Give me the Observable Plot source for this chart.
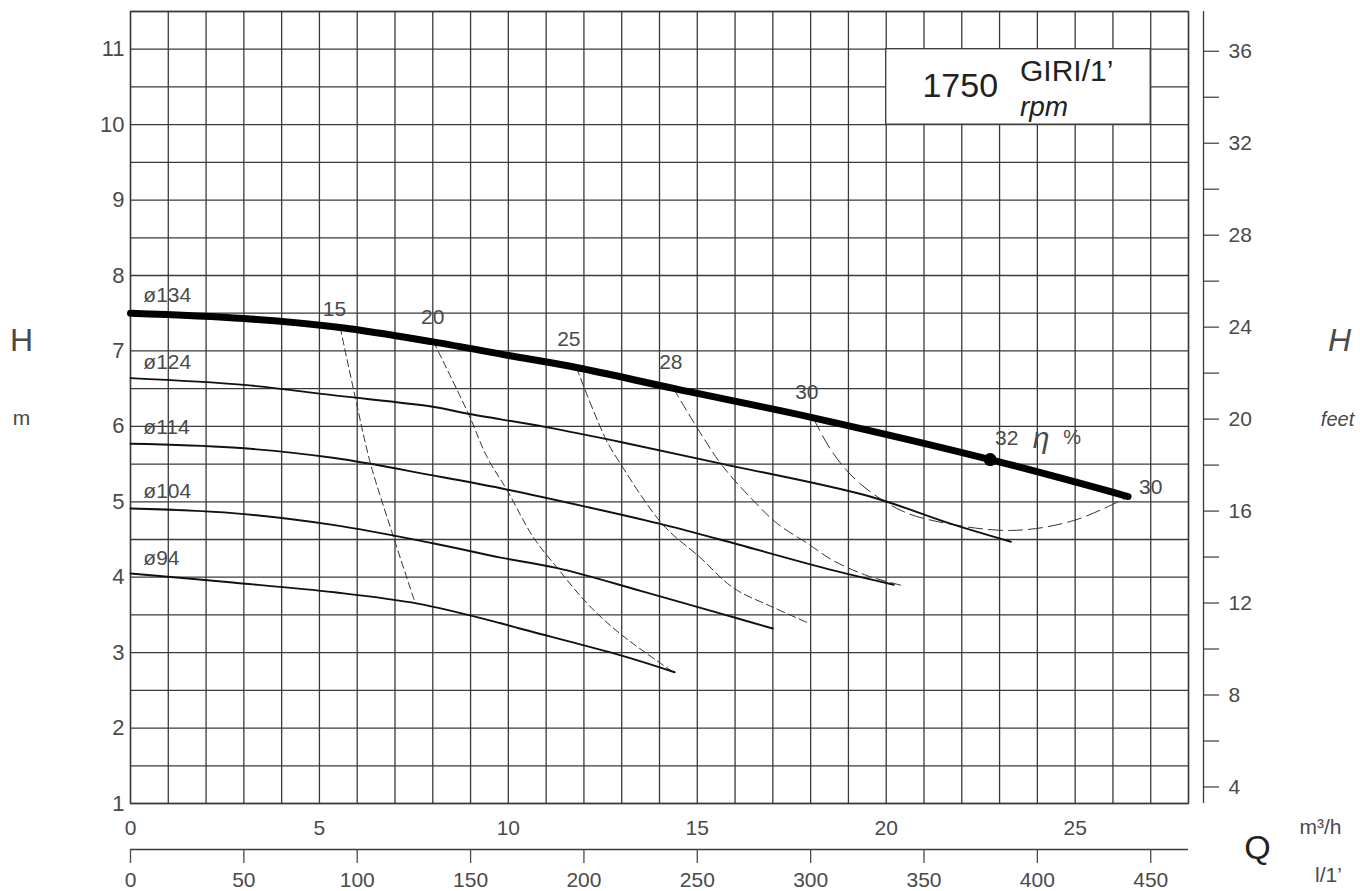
<!DOCTYPE html>
<html><head><meta charset="utf-8">
<script src="https://cdn.jsdelivr.net/npm/d3@7"></script>
<script src="https://cdn.jsdelivr.net/npm/@observablehq/plot@0.6"></script>
<style>body{margin:0;background:#fff} #chart svg{display:block}</style>
</head><body><div id="chart"></div>
<script>
// ---- data (Q in m³/h, H in m) ----
const d134Q = [0, 3, 5.55, 8, 10, 11.8, 14.4, 18.1, 22.75, 26.4];
const d134H = [7.50, 7.43, 7.31, 7.12, 6.94, 6.78, 6.50, 6.11, 5.56, 5.07];
const d124Q = [0, 3, 5.4, 8, 8.9, 11, 13, 15.6, 19.5, 21.7, 23.3];
const d124H = [6.64, 6.55, 6.41, 6.26, 6.17, 5.99, 5.79, 5.51, 5.08, 4.71, 4.47];
const d114Q = [0, 2.7, 5.4, 8, 9.8, 12.1, 14.0, 15.6, 18.6, 20.2];
const d114H = [5.77, 5.72, 5.58, 5.35, 5.18, 4.93, 4.71, 4.50, 4.09, 3.90];
const d104Q = [0, 2.7, 5.4, 8, 9.8, 11.3, 13.5, 15.6, 17.0];
const d104H = [4.91, 4.85, 4.69, 4.45, 4.26, 4.12, 3.82, 3.52, 3.32];
const d94Q  = [0, 2.7, 5.4, 7.6, 9.8, 10.3, 13.0, 14.4];
const d94H  = [4.05, 3.93, 3.80, 3.65, 3.39, 3.32, 2.96, 2.74];
const diamNames = ["ø134", "ø124", "ø114", "ø104", "ø94"];
const diamLabelQ = [0.34, 0.34, 0.34, 0.34, 0.34];
const diamLabelH = [7.74, 6.85, 5.99, 5.14, 4.25];

// iso-efficiency curves (%)
const e15Q = [5.55, 5.95, 6.35, 6.93, 7.54];
const e15H = [7.31, 6.38, 5.51, 4.58, 3.65];
const e20Q = [8.02, 8.94, 9.44, 9.97, 10.66, 11.30, 12.09, 12.96, 14.37];
const e20H = [7.12, 6.17, 5.59, 5.15, 4.53, 4.12, 3.65, 3.25, 2.74];
const e25Q = [11.8, 12.57, 12.96, 14.1, 15.08, 15.95, 17.01, 17.91];
const e25H = [6.78, 5.84, 5.51, 4.69, 4.26, 3.86, 3.60, 3.40];
const e28Q = [14.37, 15.16, 15.66, 16.40, 17.12, 17.91, 18.60, 19.50, 20.42];
const e28H = [6.50, 5.85, 5.48, 5.06, 4.71, 4.45, 4.22, 4.02, 3.89];
const e30Q = [18.07, 18.60, 19.31, 20.37, 21.24, 23.28, 24.95, 26.38];
const e30H = [6.11, 5.64, 5.24, 4.89, 4.75, 4.62, 4.75, 5.06];
const effNames = ["15", "20", "25", "28", "30", "30"];
const effLabelQ = [5.40, 8.0, 11.6, 14.3, 17.9, 27.0];
const effLabelH = [7.55, 7.45, 7.15, 6.85, 6.45, 5.19];

const bestQ = [22.75], bestH = [5.56];

// ticks
const qTicks = [0, 5, 10, 15, 20, 25];
const lminTicks = [0, 50, 100, 150, 200, 250, 300, 350, 400, 450];
const hTicks = [1, 2, 3, 4, 5, 6, 7, 8, 9, 10, 11];
const ftMajor = [4, 8, 12, 16, 20, 24, 28, 32, 36];
const ftMinor = [6, 10, 14, 18, 22, 26, 30, 34];
const gridQ = d3.range(0, 29, 1);
const gridH = d3.range(1, 11.51, 0.5);
const titleBoxQ = [20, 27], titleBoxH = [10, 11];

// ---- build ----
const M_PER_FT = 0.3048;
const L_PER_M3H = 1000 / 60;
const FONT = "'Liberation Sans', Arial, sans-serif";
const INK = "#4a4a4a";
const GRID = "#3a3a3a";

const pts = (Q, H, name) => Q.map((q, i) => ({Q: q, H: H[i], name}));
const thin = [
  ...pts(d124Q, d124H, "124"), ...pts(d114Q, d114H, "114"),
  ...pts(d104Q, d104H, "104"), ...pts(d94Q, d94H, "94")
];
const thick = pts(d134Q, d134H, "134");
const effSets = [
  {data: pts(e15Q, e15H, "15"), dash: "7,4"},
  {data: pts(e20Q, e20H, "20"), dash: "7,4"},
  {data: pts(e25Q, e25H, "25"), dash: "8,4"},
  {data: pts(e28Q, e28H, "28"), dash: "10,5"},
  {data: pts(e30Q, e30H, "30"), dash: "14,6"}
];
const diamLabels = diamNames.map((t, i) => ({t, Q: diamLabelQ[i], H: diamLabelH[i]}));
const effLabels = effNames.map((t, i) => ({t, Q: effLabelQ[i], H: effLabelH[i]}));

const title = (t, anchor, dx, dy, size, extra = {}) =>
  Plot.text([t], {frameAnchor: anchor, dx, dy, text: d => d, fontSize: size, fill: INK,
    textAnchor: "middle", lineAnchor: "middle", ...extra});

const chart = Plot.plot({
  width: 1360, height: 891,
  marginLeft: 130, marginRight: 172, marginTop: 11, marginBottom: 88,
  x: {domain: [0, 28]},
  y: {domain: [1, 11.5]},
  style: {fontFamily: FONT, background: "white", color: INK},
  marks: [
    Plot.gridX(gridQ, {stroke: GRID, strokeOpacity: 1, strokeWidth: 1.3}),
    Plot.gridY(gridH, {stroke: GRID, strokeOpacity: 1, strokeWidth: 1.3}),
    Plot.frame({stroke: GRID, strokeWidth: 1.4}),
    Plot.rect([0], {x1: titleBoxQ[0], x2: titleBoxQ[1], y1: titleBoxH[0], y2: titleBoxH[1], fill: "white", stroke: GRID, strokeWidth: 1.3}),
    // axes
    Plot.axisY(hTicks, {anchor: "left", tickSize: 0, tickPadding: 6, fontSize: 22, color: INK, label: null, tickFormat: d => String(d)}),
    Plot.axisX(qTicks, {anchor: "bottom", tickSize: 0, tickPadding: 17, fontSize: 21, color: INK, label: null, tickFormat: d => String(d)}),
    Plot.ruleY([1], {dy: 46, stroke: GRID, strokeWidth: 1.3}),
    Plot.axisX(lminTicks.map(v => v / L_PER_M3H), {anchor: "bottom", dy: 46, tickSize: 14, tickPadding: 9, fontSize: 21, color: INK, strokeWidth: 1.3, label: null, tickFormat: d => String(Math.round(d * L_PER_M3H))}),
    Plot.ruleX([28], {dx: 15, stroke: GRID, strokeWidth: 1.3}),
    Plot.axisY(ftMajor.map(f => f * M_PER_FT), {anchor: "right", dx: 15, tickSize: 15, tickPadding: 10, fontSize: 21, color: INK, strokeWidth: 1.3, label: null, tickFormat: d => String(Math.round(d / M_PER_FT))}),
    Plot.axisY(ftMinor.map(f => f * M_PER_FT), {anchor: "right", dx: 15, tickSize: 15, fontSize: 21, color: INK, strokeWidth: 1.3, label: null, tickFormat: () => ""}),
    // curves
    ...effSets.map(s => Plot.line(s.data, {x: "Q", y: "H", curve: "catmull-rom", stroke: "#333", strokeWidth: 1, strokeDasharray: s.dash})),
    Plot.line(thin, {x: "Q", y: "H", z: "name", curve: "catmull-rom", stroke: "#111", strokeWidth: 1.9}),
    Plot.line(thick, {x: "Q", y: "H", curve: "catmull-rom", stroke: "#000", strokeWidth: 7}),
    Plot.dot(bestQ.map((q, i) => ({Q: q, H: bestH[i]})), {x: "Q", y: "H", r: 6.5, fill: "#000"}),
    // labels
    Plot.text(diamLabels, {x: "Q", y: "H", text: "t", textAnchor: "start", fontSize: 21, fill: INK}),
    Plot.text(effLabels, {x: "Q", y: "H", text: "t", fontSize: 21, fill: INK}),
    Plot.text(["32"], {x: 22.88, y: 5.84, text: d => d, textAnchor: "start", fontSize: 21, fill: INK}),
    Plot.text(["η"], {x: 24.1, y: 5.84, text: d => d, fontSize: 30, fontStyle: "italic", fill: INK}),
    Plot.text(["%"], {x: 24.92, y: 5.85, text: d => d, fontSize: 20, fill: INK}),
    // title box
    Plot.text(["1750"], {x: 21.96, y: 10.51, text: d => d, fontSize: 34, fill: "#222"}),
    Plot.text(["GIRI/1’"], {x: 23.54, y: 10.70, text: d => d, textAnchor: "start", fontSize: 30, fill: "#222"}),
    Plot.text(["rpm"], {x: 23.54, y: 10.24, text: d => d, textAnchor: "start", fontSize: 28, fontStyle: "italic", fill: "#222"}),
    // axis titles
    title("H", "top-left", -109, 329, 32),
    title("m", "top-left", -109, 407, 21),
    title("H", "top-right", 151, 329, 32, {fontStyle: "italic"}),
    title("feet", "top-right", 149, 408, 20, {fontStyle: "italic"}),
    title("Q", "bottom-right", 69, 45, 34, {fill: "#222"}),
    title("m³/h", "bottom-right", 132, 24, 21),
    title("l/1’", "bottom-right", 140, 72, 21)
  ]
});
document.getElementById("chart").append(chart);
</script>
</body></html>
